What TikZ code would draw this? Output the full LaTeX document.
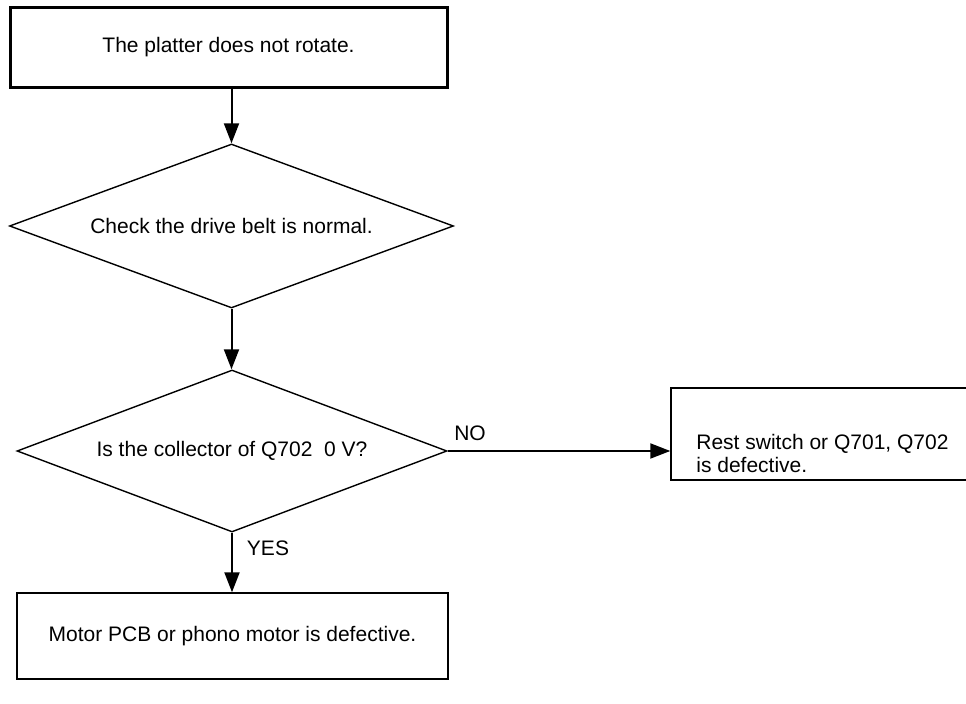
\documentclass[tikz,border=0pt]{standalone}
\usepackage{fontspec}
\setmainfont{Liberation Sans}
\usepackage{xcolor}
\usetikzlibrary{shapes.geometric,arrows.meta}
\definecolor{color_ink}{rgb}{0,0,0}
\definecolor{color_paper}{rgb}{1,1,1}

\tikzset{
	stepbox/.style={draw=color_ink, line width=0.7pt, inner sep=0pt, align=center},
	decision/.style={diamond, aspect=2.7, draw=color_ink, line width=0.7pt, inner sep=0pt, align=center},
	flow/.style={draw=color_ink, line width=1pt, -{Triangle[length=10pt,width=7.5pt]}},
	answer/.style={inner sep=0pt}
}

\begin{document}
\begin{tikzpicture}[x=0.5pt, y=-0.5pt, font=\fontsize{10.5}{11.5}\selectfont]
			% Fond
			\fill[color_paper] (0,0) rectangle (966,704);
			\useasboundingbox (0,0) rectangle (966,704);
			
			% Point de depart
			\node[stepbox, line width=1.5pt, minimum width=218.5pt, minimum height=40pt] (start) at (228.5,47.5)
				{The platter does not rotate.};
			
			% Questions
			\node[decision, minimum width=222pt, minimum height=82pt] (belt) at (231.5,226)
				{Check the drive belt is normal.};
			\node[decision, minimum width=215pt, minimum height=81pt] (coll) at (232,451)
				{Is the collector of Q702\ \ 0 V?};
			
			% Resultats (la boite de droite sort du cadre)
			\node[stepbox, minimum width=157pt, minimum height=46pt] (rest) at (828,434) {};
			\node[align=left, anchor=west, inner sep=0pt] (restText) at (696,454)
				{Rest switch or Q701, Q702\\is defective.};
			\node[stepbox, minimum width=215.5pt, minimum height=43pt] (motor) at (232.5,636)
				{Motor PCB or phono motor is defective.};
			
			% Fleches
			\draw[flow] (start.south -| belt.north) -- (belt.north);
			\draw[flow] (belt.south) -- (belt.south |- coll.north);
			\draw[flow] (coll.east) -- (coll.east -| rest.west);
			\draw[flow] (coll.south) -- (coll.south |- motor.north);
			
			% Reponses
			\node[answer] (no) at (470,433) {NO};
			\node[answer] (yes) at (268,548) {YES};
		\end{tikzpicture}
\end{document}
